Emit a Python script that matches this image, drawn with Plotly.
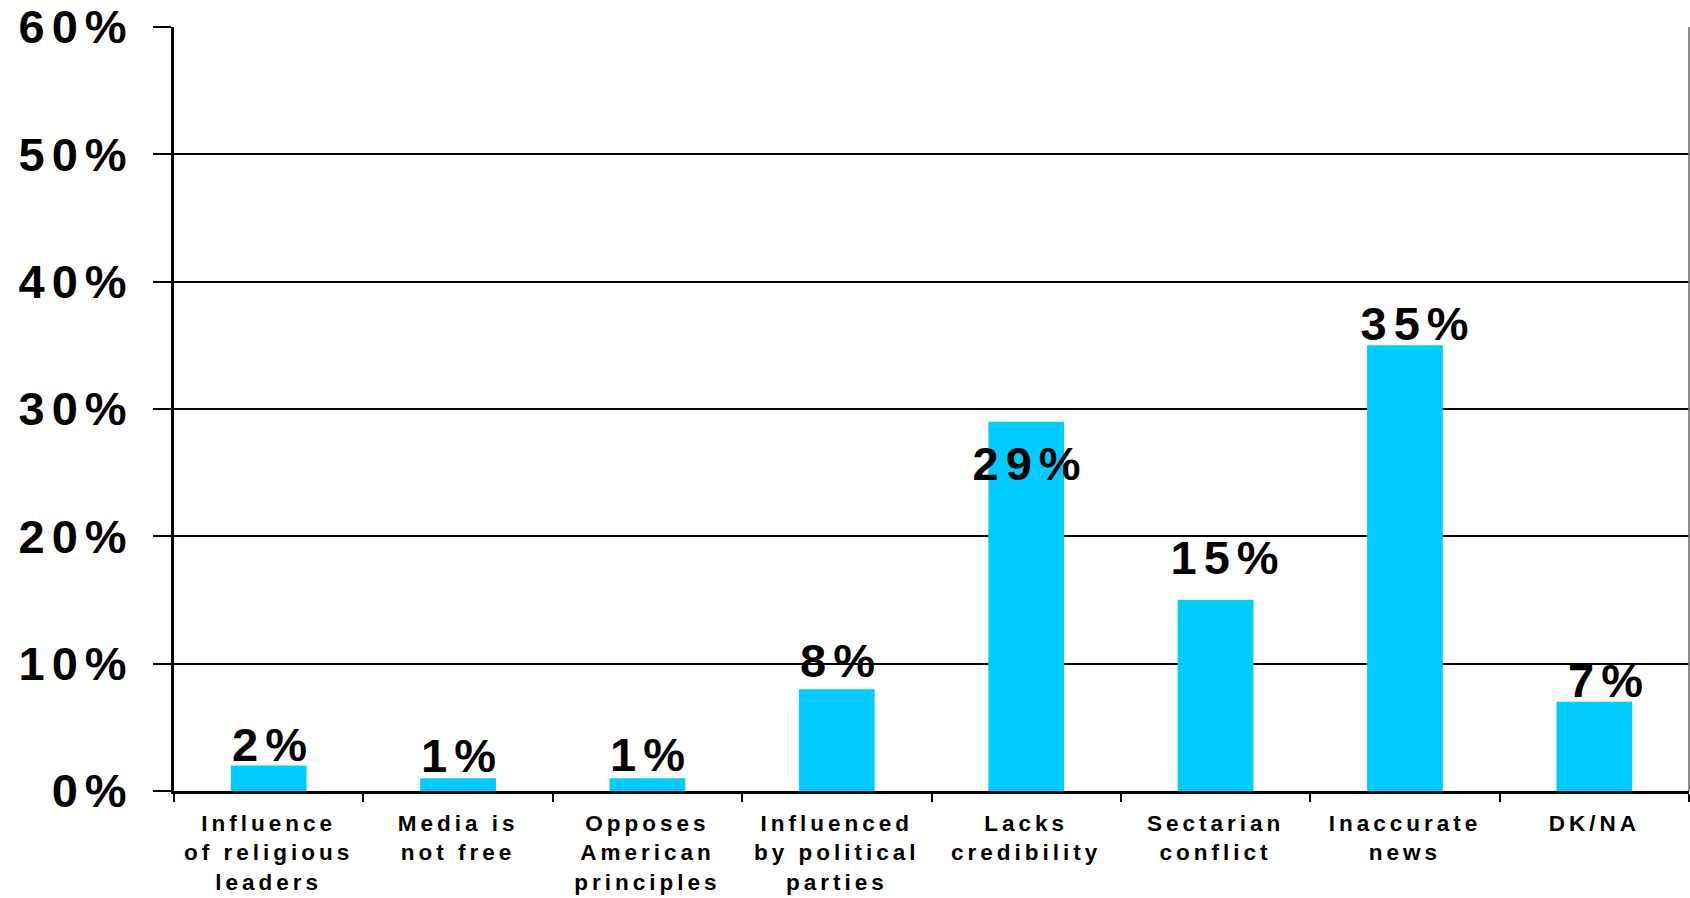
import plotly.graph_objects as go

categories = ["Influence<br>of religious<br>leaders", "Media is<br>not free", "Opposes<br>American<br>principles",
              "Influenced<br>by political<br>parties", "Lacks<br>credibility", "Sectarian<br>conflict",
              "Inaccurate<br>news", "DK/NA"]
values = [2, 1, 1, 8, 29, 15, 35, 7]
y_tickvals = [0, 10, 20, 30, 40, 50, 60]
y_ticktext = ["0%", "10%", "20%", "30%", "40%", "50%", "60%"]

# label placement tweaks (pixels) to mimic the original layout
label_yshift = [0, 1, 2, 7, -63, 21, 0, 0]
label_xshift = [0, 0, 0, 0, 0, 8, 9, 11]

fig = go.Figure()
fig.add_trace(go.Bar(x=categories, y=values, marker_color="#00CCFF", width=0.4,
                     marker_line_width=0, hoverinfo="skip"))

for c, v, ys, xs in zip(categories, values, label_yshift, label_xshift):
    fig.add_annotation(x=c, y=v, text=f"{v}%", showarrow=False, yanchor="bottom",
                       yshift=ys - 7, xshift=xs + 4,
                       font=dict(family="Liberation Sans, Arial", size=47, color="black", weight="bold"))

fig.update_layout(
    width=1690, height=898,
    margin=dict(l=174, r=1, t=27, b=107),
    plot_bgcolor="white", paper_bgcolor="white",
    showlegend=False, bargap=0.6,
)
fig.update_xaxes(
    automargin=False,
    showline=True, linecolor="black", linewidth=3,
    ticks="outside", tickson="boundaries", ticklen=8, tickwidth=2, tickcolor="black",
    tickfont=dict(family="Liberation Sans, Arial", size=22.5, color="black", weight="bold"),
    showgrid=False, tickangle=0, ticklabelstandoff=10,
)
fig.update_yaxes(
    automargin=False,
    range=[0, 60], tickvals=y_tickvals, ticktext=y_ticktext,
    showline=True, linecolor="black", linewidth=3,
    showgrid=True, gridcolor="black", gridwidth=2,
    ticks="outside", ticklen=18, tickwidth=2, tickcolor="black",
    tickfont=dict(family="Liberation Sans, Arial", size=47, color="black", weight="bold"),
    zeroline=False, ticklabelstandoff=10,
)
fig.add_shape(type="line", xref="paper", yref="paper", x0=1, x1=1, y0=0, y1=1,
              line=dict(color="#666666", width=1.5))

post = """
document.body.style.margin='0';
document.body.style.overflow='hidden';
document.querySelectorAll('.xtick text').forEach(function(t){t.style.letterSpacing='4px';});
document.querySelectorAll('.ytick text').forEach(function(t){t.style.letterSpacing='7px';});
document.querySelectorAll('.annotation-text').forEach(function(t){t.style.letterSpacing='7px';});
"""
fig.write_html("out.html", post_script=post, config={"displayModeBar": False, "staticPlot": True})
